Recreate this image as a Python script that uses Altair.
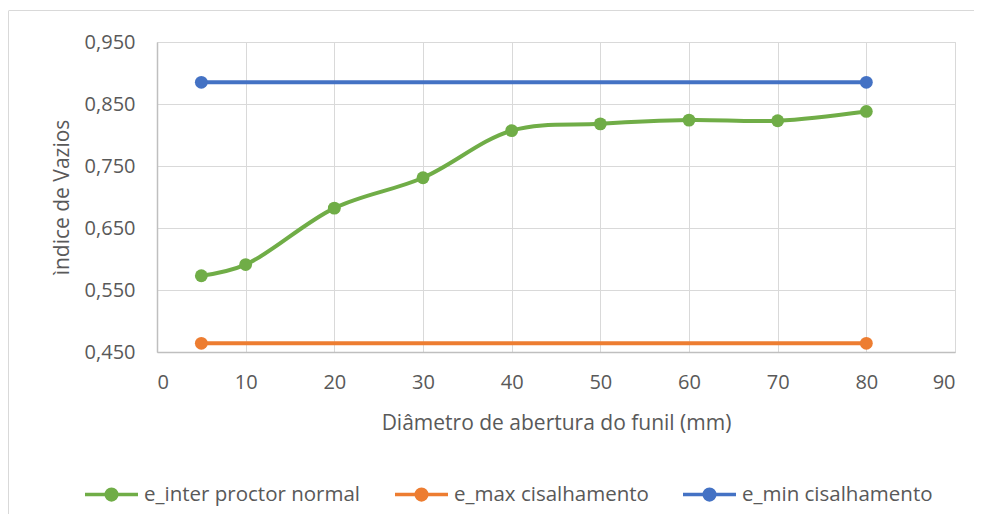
import altair as alt
import pandas as pd

# ---- data ----
series_names = ["e_inter proctor normal", "e_max cisalhamento", "e_min cisalhamento"]
series_colors = ["#70AD47", "#ED7D31", "#4472C4"]

x_inter = [5, 10, 20, 30, 40, 50, 60, 70, 80]
y_inter = [0.573, 0.591, 0.682, 0.731, 0.807, 0.818, 0.824, 0.823, 0.838]

x_max = [5, 80]
y_max = [0.464, 0.464]

x_min = [5, 80]
y_min = [0.885, 0.885]

x_ticks = [0, 10, 20, 30, 40, 50, 60, 70, 80, 90]
y_ticks = [0.45, 0.55, 0.65, 0.75, 0.85, 0.95]

x_title = "Diâmetro de abertura do funil (mm)"
y_title = "ìndice de Vazios"

rows = []
for xs, ys, name in [(x_inter, y_inter, series_names[0]),
                     (x_max, y_max, series_names[1]),
                     (x_min, y_min, series_names[2])]:
    for xv, yv in zip(xs, ys):
        rows.append({"x": xv, "y": yv, "series": name})
df = pd.DataFrame(rows)

FONT = "Open Sans"
GRAY = "#595959"
W, H = 798, 310
PAD = {"left": 149, "top": 34, "right": 19, "bottom": 162}

legend_path = ("M-1,0L1,0M-0.2,0A0.2,0.2,0,1,1,0.2,0"
               "A0.2,0.2,0,1,1,-0.2,0Z")

color = alt.Color(
    "series:N",
    scale=alt.Scale(domain=series_names, range=series_colors),
    sort=series_names,
    legend=alt.Legend(
        title=None,
        orient="none",
        legendX=-74,
        legendY=424,
        direction="horizontal",
        symbolType=legend_path,
        symbolSize=2809,
        symbolStrokeWidth=3.5,
        symbolOpacity=1,
        labelFont=FONT,
        labelFontSize=20.5,
        labelColor=GRAY,
        labelOffset=4,
        labelLimit=0,
    ),
)

x_enc = alt.X(
    "x:Q",
    scale=alt.Scale(domain=[0, 90], nice=False, zero=False),
    axis=alt.Axis(
        values=x_ticks,
        title=x_title,
        grid=True,
        gridColor="#D9D9D9",
        gridWidth=1,
        ticks=False,
        domainColor="#BFBFBF",
        domainWidth=1.5,
        labelFont=FONT,
        labelFontSize=20,
        labelColor=GRAY,
        labelPadding=20,
        titleFont=FONT,
        titleFontSize=21,
        titleColor=GRAY,
        titleFontWeight="normal",
        titlePadding=20,
    ),
)

y_enc = alt.Y(
    "y:Q",
    scale=alt.Scale(domain=[0.45, 0.95], nice=False, zero=False),
    axis=alt.Axis(
        values=y_ticks,
        title=y_title,
        labelExpr="replace(format(datum.value, '.3f'), '.', ',')",
        grid=True,
        gridColor="#D9D9D9",
        gridWidth=1,
        ticks=False,
        domainColor="#BFBFBF",
        domainWidth=1.5,
        labelFont=FONT,
        labelFontSize=20,
        labelColor=GRAY,
        labelPadding=22,
        titleFont=FONT,
        titleFontSize=21,
        titleColor=GRAY,
        titleFontWeight="normal",
        titlePadding=12,
    ),
)

base = alt.Chart(df).encode(x=x_enc, y=y_enc, color=color)

lines = base.mark_line(interpolate="catmull-rom", strokeWidth=4)
points = base.mark_point(filled=True, size=165, opacity=1)

frame_df = pd.DataFrame({"a": [0]})
frame_left = alt.Chart(frame_df).mark_rule(color="#D9D9D9", strokeWidth=1).encode(
    x=alt.value(-148.5), y=alt.value(-31), y2=alt.value(H + 170)
)
frame_top = alt.Chart(frame_df).mark_rule(color="#D9D9D9", strokeWidth=1).encode(
    x=alt.value(-148.5), x2=alt.value(W + 30), y=alt.value(-31.5)
)

chart = (
    alt.layer(frame_left, frame_top, lines, points)
    .properties(
        width=W,
        height=H,
        autosize=alt.AutoSizeParams(type="none"),
        padding=PAD,
        background="white",
    )
    .configure_view(stroke="#D9D9D9", strokeWidth=1)
    .configure_legend(columnPadding=27)
)

chart.save("out.html", embed_options={"renderer": "svg", "actions": False})
